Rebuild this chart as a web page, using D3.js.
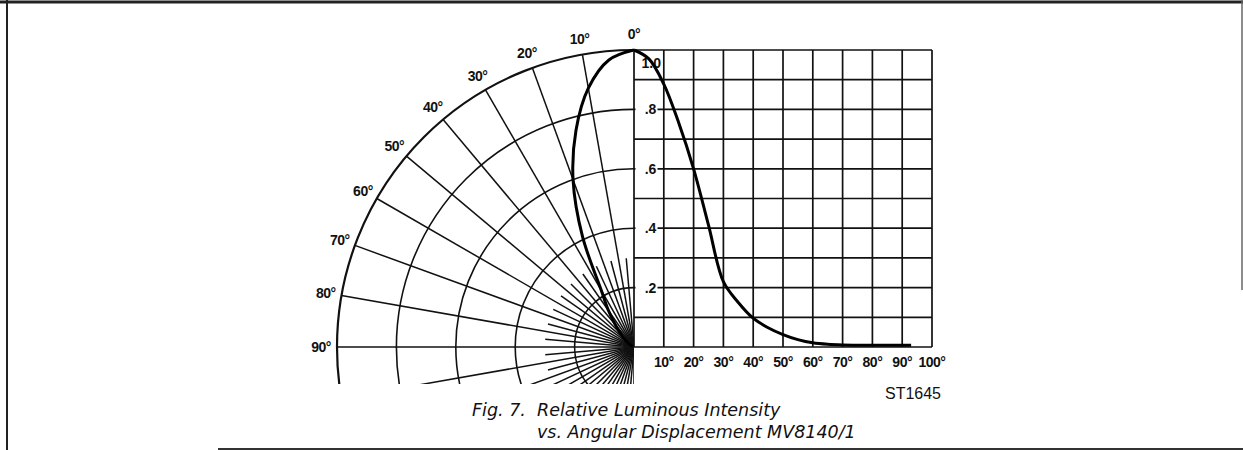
<!DOCTYPE html>
<html>
<head>
<meta charset="utf-8">
<script src="https://cdn.jsdelivr.net/npm/d3@7"></script>
<style>
  body { margin: 0; background: #fff; }
  text { font-family: "Liberation Sans", Arial, sans-serif; fill: #111; }
  text.cap { font-family: "DejaVu Sans", sans-serif; }
</style>
</head>
<body>
<script>
// relative luminous intensity vs angle (deg)
const angles = [0, 5, 10, 15, 20, 25, 30, 35, 40, 45, 50, 55, 60, 65, 70, 80, 93];
const intensity = [1.0, 0.97, 0.885, 0.755, 0.6, 0.41, 0.22, 0.15, 0.097, 0.065, 0.042, 0.025, 0.014, 0.009, 0.007, 0.006, 0.006];

const polarTicks = [0, 10, 20, 30, 40, 50, 60, 70, 80, 90];
const xTicks = [10, 20, 30, 40, 50, 60, 70, 80, 90, 100];
const yTicks = [0.2, 0.4, 0.6, 0.8];

const w = 1243;
const h = 450;
const cx = 634;
const cy = 347;
const R = 297;

const data = angles.map((a, i) => ({ a: a, v: intensity[i] }));

const svg = d3.select("body").append("svg").attr("width", w).attr("height", h);

//page frame
svg.append("line").attr("x1", 0).attr("x2", w).attr("y1", 2).attr("y2", 2)
  .attr("stroke", "#222").attr("stroke-width", 3);
svg.append("line").attr("x1", 7).attr("x2", 7).attr("y1", 0).attr("y2", h)
  .attr("stroke", "#222").attr("stroke-width", 2);
svg.append("line").attr("x1", 218).attr("x2", w).attr("y1", 449).attr("y2", 449)
  .attr("stroke", "#333").attr("stroke-width", 2);
svg.append("line").attr("x1", 1242).attr("x2", 1242).attr("y1", 0).attr("y2", 290)
  .attr("stroke", "#666").attr("stroke-width", 1.5);

const rScale = d3.scaleLinear().domain([0, 1]).range([0, R]);
const xScale = d3.scaleLinear().domain([0, 100]).range([cx, cx + 298]);
const yScale = d3.scaleLinear().domain([0, 1]).range([cy, cy - R]);

// ---- polar part (left) ----
svg.append("clipPath").attr("id", "half")
  .append("rect").attr("x", 0).attr("y", 0).attr("width", cx).attr("height", 384);

const polar = svg.append("g").attr("clip-path", "url(#half)");
const pg = polar.append("g").attr("transform", "translate(" + cx + "," + cy + ")");

pg.selectAll("circle")
  .data([0.2, 0.4, 0.6, 0.8, 1.0])
  .enter()
  .append("circle")
  .attr("r", (d) => rScale(d))
  .attr("fill", "none")
  .attr("stroke", "#111")
  .attr("stroke-width", (d) => (d === 1 ? 2.2 : 1.6));

const rad = (a) => (a * Math.PI) / 180;

// long spokes every 10 deg, short ones in between
const spokes = d3.range(10, 181, 10).map((a) => ({ a: a, r: 1 }))
  .concat(d3.range(5, 180, 10).map((a) => ({ a: a, r: 0.3 })));

pg.selectAll("line.spoke")
  .data(spokes)
  .enter()
  .append("line")
  .attr("class", "spoke")
  .attr("x1", 0)
  .attr("y1", 0)
  .attr("x2", (d) => -rScale(d.r) * Math.sin(rad(d.a)))
  .attr("y2", (d) => -rScale(d.r) * Math.cos(rad(d.a)))
  .attr("stroke", "#111")
  .attr("stroke-width", 1.5);

pg.append("path")
  .datum(data)
  .attr("fill", "none")
  .attr("stroke", "#000")
  .attr("stroke-width", 3)
  .attr("d", d3.lineRadial()
    .angle((d) => -rad(d.a))
    .radius((d) => rScale(d.v))
    .curve(d3.curveCatmullRom));

svg.selectAll("text.pol")
  .data(polarTicks)
  .enter()
  .append("text")
  .attr("class", "pol")
  .attr("x", (d) => cx - (R + 16) * Math.sin(rad(d)))
  .attr("y", (d) => cy - (R + 16) * Math.cos(rad(d)))
  .attr("text-anchor", "middle")
  .attr("dominant-baseline", "central")
  .attr("font-size", 14)
  .attr("font-weight", "bold")
  .attr("letter-spacing", -0.5)
  .text((d) => d + "°");

// ---- cartesian part (right) ----
const grid = svg.append("g");

grid.selectAll("line.v")
  .data(d3.range(0, 101, 10))
  .enter()
  .append("line")
  .attr("x1", (d) => xScale(d))
  .attr("x2", (d) => xScale(d))
  .attr("y1", yScale(1))
  .attr("y2", yScale(0))
  .attr("stroke", "#111")
  .attr("stroke-width", 1.7);

grid.selectAll("line.h")
  .data(d3.range(0, 11).map((i) => i / 10))
  .enter()
  .append("line")
  .attr("x1", xScale(0))
  .attr("x2", xScale(100))
  .attr("y1", (d) => yScale(d))
  .attr("y2", (d) => yScale(d))
  .attr("stroke", "#111")
  .attr("stroke-width", 1.7);

// y labels sit in the first column over a white patch
const yl = grid.selectAll("g.yl")
  .data(yTicks)
  .enter()
  .append("g")
  .attr("transform", (d) => "translate(" + (xScale(0) + 1.5) + "," + yScale(d) + ")");
yl.append("rect").attr("x", 0).attr("y", -7).attr("width", 22).attr("height", 14).attr("fill", "#fff");
yl.append("text")
  .attr("x", 15)
  .attr("text-anchor", "middle")
  .attr("dominant-baseline", "central")
  .attr("font-size", 14)
  .attr("font-weight", "bold")
  .text((d) => d3.format(".1f")(d).replace("0.", "."));

svg.append("text")
  .attr("x", xScale(5.8))
  .attr("y", yScale(0.955))
  .attr("text-anchor", "middle")
  .attr("dominant-baseline", "central")
  .attr("font-size", 14)
  .attr("font-weight", "bold")
  .text("1.0");

svg.selectAll("text.xl")
  .data(xTicks)
  .enter()
  .append("text")
  .attr("class", "xl")
  .attr("x", (d) => xScale(d))
  .attr("y", cy + 15)
  .attr("text-anchor", "middle")
  .attr("dominant-baseline", "central")
  .attr("font-size", 14)
  .attr("font-weight", "bold")
  .attr("letter-spacing", -0.5)
  .text((d) => d + "°");

svg.append("path")
  .datum(data)
  .attr("fill", "none")
  .attr("stroke", "#000")
  .attr("stroke-width", 3)
  .attr("d", d3.line()
    .x((d) => xScale(d.a))
    .y((d) => yScale(d.v))
    .curve(d3.curveCatmullRom));

// ---- captions ----
svg.append("text").attr("x", 913).attr("y", 399).attr("text-anchor", "middle")
  .attr("font-size", 16).text("ST1645");

svg.append("text").attr("class", "cap").attr("x", 472).attr("y", 416).attr("font-size", 17.5)
  .attr("font-style", "italic").attr("xml:space", "preserve")
  .text("Fig. 7.  Relative Luminous Intensity");
svg.append("text").attr("class", "cap").attr("x", 537).attr("y", 438).attr("font-size", 17.5)
  .attr("font-style", "italic")
  .text("vs. Angular Displacement MV8140/1");
</script>
</body>
</html>
